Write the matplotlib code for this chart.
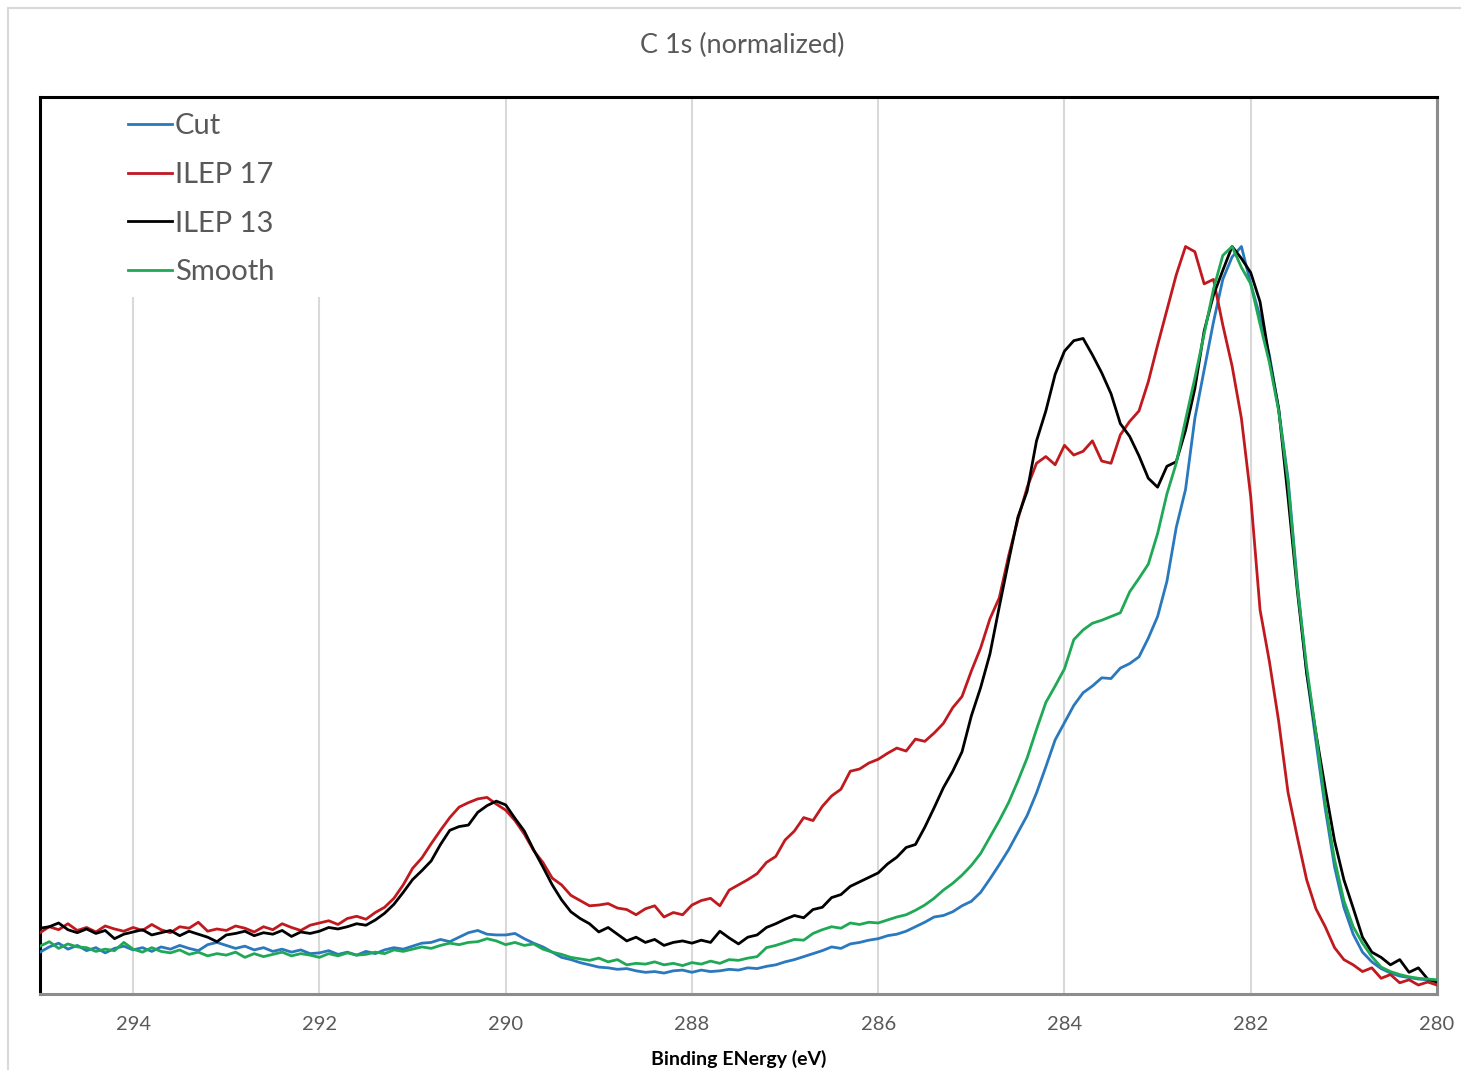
import numpy as np
import matplotlib
matplotlib.use('Agg')
import matplotlib.pyplot as plt
from matplotlib.patches import Rectangle

plt.rcParams['font.family'] = ['Lato', 'DejaVu Sans']

# binding energy grid, 0.1 eV steps from 295 down to 280
energy = np.round(np.arange(295.0, 279.95, -0.1), 1)

# normalized C 1s intensity (%), one row per eV
cut = [
    5.6, 6.3, 6.8, 6.0, 6.5, 5.8, 6.2, 5.5, 6.1, 6.4,
    5.9, 6.2, 5.7, 6.3, 6.0, 6.5, 6.1, 5.8, 6.6, 6.9,
    6.5, 6.1, 6.4, 5.9, 6.2, 5.7, 6.0, 5.6, 5.9, 5.4,
    5.5, 5.8, 5.3, 5.6, 5.2, 5.7, 5.4, 5.9, 6.2, 6.0,
    6.4, 6.8, 6.9, 7.3, 7.0, 7.6, 8.2, 8.5, 8.0, 7.9,
    7.9, 8.1, 7.4, 6.8, 6.3, 5.6, 4.9, 4.6, 4.2, 3.9,
    3.6, 3.5, 3.3, 3.4, 3.1, 2.9, 3.0, 2.8, 3.1, 3.2,
    2.9, 3.2, 3.0, 3.1, 3.3, 3.2, 3.5, 3.4, 3.7, 3.9,
    4.3, 4.6, 5.0, 5.4, 5.8, 6.3, 6.1, 6.7, 6.9, 7.2,
    7.4, 7.8, 8.0, 8.4, 9.0, 9.6, 10.3, 10.5, 11.0, 11.8,
    12.4, 13.6, 15.4, 17.3, 19.3, 21.6, 23.9, 26.9, 30.4, 34.0,
    36.3, 38.6, 40.3, 41.2, 42.3, 42.2, 43.6, 44.2, 45.1, 47.6,
    50.5, 55.2, 62.4, 67.5, 77.0, 83.5, 89.9, 95.6, 98.6, 100.0,
    95.0, 90.6, 85.5, 78.2, 69.0, 55.0, 43.0, 33.8, 24.8, 17.0,
    11.6, 8.0, 5.6, 4.3, 3.4, 2.8, 2.4, 2.2, 2.0, 1.9,
    1.8,
]

ilep17 = [
    8.2, 9.0, 8.6, 9.4, 8.5, 8.9, 8.3, 9.1, 8.7, 8.4,
    8.9, 8.5, 9.3, 8.6, 8.2, 9.0, 8.8, 9.6, 8.4, 8.7,
    8.5, 9.1, 8.8, 8.3, 9.0, 8.6, 9.4, 8.9, 8.5, 9.2,
    9.5, 9.8, 9.3, 10.1, 10.4, 10.0, 10.9, 11.6, 12.8, 14.6,
    16.8, 18.2, 20.1, 21.9, 23.6, 25.0, 25.6, 26.1, 26.3, 25.4,
    24.6, 23.2, 21.4, 19.2, 17.6, 15.5, 14.6, 13.2, 12.5, 11.8,
    11.9, 12.1, 11.5, 11.3, 10.6, 11.4, 11.8, 10.3, 10.9, 10.6,
    11.9, 12.5, 12.8, 11.8, 13.9, 14.6, 15.3, 16.1, 17.6, 18.4,
    20.6, 21.8, 23.6, 23.2, 25.1, 26.5, 27.4, 29.8, 30.1, 30.9,
    31.4, 32.2, 32.9, 32.5, 34.1, 33.8, 34.9, 36.2, 38.3, 39.8,
    43.2, 46.3, 50.2, 53.0, 58.6, 63.5, 67.8, 71.0, 71.9, 70.8,
    73.4, 72.1, 72.6, 74.0, 71.3, 71.0, 74.8, 76.6, 78.0, 81.9,
    86.8, 91.5, 96.2, 100.0, 99.3, 95.0, 95.6, 89.5, 84.0, 77.0,
    66.5, 51.4, 44.5, 36.5, 27.0, 21.0, 15.3, 11.4, 9.0, 6.2,
    4.6, 3.9, 3.0, 3.5, 2.1, 2.6, 1.5, 1.9, 1.2, 1.6,
    1.2,
]

ilep13 = [
    8.8, 9.0, 9.5, 8.6, 8.2, 8.7, 8.1, 8.5, 7.4, 8.0,
    8.3, 8.6, 7.9, 8.2, 8.5, 7.8, 8.4, 8.0, 7.6, 7.0,
    7.9, 8.1, 8.4, 7.8, 8.2, 8.0, 8.5, 7.7, 8.3, 8.1,
    8.4, 8.9, 8.7, 9.0, 9.4, 9.2, 9.9, 10.8, 12.0, 13.6,
    15.3, 16.5, 17.8, 20.0, 21.9, 22.4, 22.6, 24.3, 25.2, 25.8,
    25.3, 23.5, 21.8, 19.3, 17.0, 14.6, 12.6, 11.0, 10.1, 9.4,
    8.3, 8.9, 8.0, 7.1, 7.6, 6.9, 7.3, 6.5, 6.9, 7.1,
    6.8, 7.2, 6.9, 8.4, 7.5, 6.7, 7.6, 7.9, 8.9, 9.4,
    10.0, 10.5, 10.2, 11.3, 11.6, 12.9, 13.3, 14.4, 15.0, 15.6,
    16.2, 17.4, 18.3, 19.6, 20.0, 22.3, 24.9, 27.6, 29.8, 32.4,
    37.2, 41.0, 45.5, 51.8, 57.9, 63.8, 67.3, 74.0, 78.0, 82.9,
    86.0, 87.4, 87.7, 85.5, 83.1, 80.3, 76.3, 74.6, 72.0, 69.0,
    67.8, 70.6, 71.2, 75.4, 81.0, 88.7, 93.5, 96.8, 100.0, 98.4,
    96.5, 92.6, 85.0, 78.3, 66.5, 54.0, 43.0, 34.9, 27.5, 20.5,
    15.3, 11.5, 7.6, 5.6, 4.9, 3.9, 4.6, 2.9, 3.5, 2.0,
    1.6,
]

smooth = [
    6.4, 7.0, 6.1, 6.7, 6.3, 6.2, 5.7, 6.0, 5.8, 6.9,
    6.0, 5.6, 6.2, 5.7, 5.5, 5.9, 5.3, 5.6, 5.1, 5.4,
    5.2, 5.6, 4.9, 5.4, 5.0, 5.3, 5.6, 5.1, 5.4, 5.2,
    4.9, 5.4, 5.1, 5.5, 5.2, 5.3, 5.6, 5.4, 5.9, 5.7,
    6.0, 6.3, 6.1, 6.5, 6.8, 6.6, 6.9, 7.0, 7.4, 7.1,
    6.6, 6.9, 6.5, 6.7, 6.0, 5.6, 5.3, 4.9, 4.7, 4.5,
    4.8, 4.3, 4.6, 3.9, 4.1, 4.0, 4.3, 3.9, 4.1, 3.8,
    4.2, 4.0, 4.4, 4.1, 4.6, 4.5, 4.8, 5.0, 6.2, 6.5,
    6.9, 7.3, 7.2, 8.1, 8.6, 9.0, 8.8, 9.5, 9.3, 9.6,
    9.5, 9.9, 10.3, 10.6, 11.2, 11.9, 12.8, 13.9, 14.8, 15.9,
    17.2, 18.8, 21.0, 23.2, 25.6, 28.5, 31.6, 35.4, 39.0, 41.2,
    43.5, 47.4, 48.7, 49.6, 50.0, 50.5, 51.0, 53.8, 55.6, 57.5,
    61.6, 66.9, 71.0, 76.8, 82.4, 88.3, 94.3, 98.8, 100.0, 97.2,
    95.0, 89.6, 84.5, 78.0, 68.5, 54.5, 43.8, 34.9, 25.5, 18.0,
    12.5, 9.0, 6.8, 5.0, 3.6, 3.0, 2.6, 2.3, 2.1, 2.0,
    1.9,
]

series = [('Cut', cut, '#2a78bd'),
          ('ILEP 17', ilep17, '#c01a1f'),
          ('ILEP 13', ilep13, '#000000'),
          ('Smooth', smooth, '#1fa855')]

ticks = [294, 292, 290, 288, 286, 284, 282, 280]

fig = plt.figure(figsize=(14.61, 10.70), dpi=100)
ax = fig.add_axes([40 / 1461, 76 / 1070, 1397 / 1461, 897 / 1070])

# light frame around the whole chart
fig.patches.append(Rectangle((8 / 1461, -0.1), 1.2, 1.1 - 8 / 1070,
                             transform=fig.transFigure, fill=False,
                             edgecolor='#d9d9d9', lw=1.5))

for name, vals, col in series:
    ax.plot(energy, vals, color=col, lw=2.0, label=name,
            solid_joinstyle='round', zorder=3)

ax.set_xlim(295, 280)
ax.set_ylim(0, 120)
ax.set_xticks(ticks)
ax.set_xticklabels([str(t) for t in ticks])
ax.set_yticks([])
ax.tick_params(axis='x', length=0, pad=16, labelsize=14.5, labelcolor='#595959')
ax.grid(axis='x', color='#d9d9d9', lw=1.5, zorder=0)
ax.set_axisbelow(True)

for side in ['top', 'left', 'right']:
    ax.spines[side].set_color('black')
    ax.spines[side].set_linewidth(2.2)
ax.spines['right'].set_color('#8c8c8c')
ax.spines['bottom'].set_color('#8c8c8c')
ax.spines['bottom'].set_linewidth(2.2)

# white block behind the legend hides the grid lines there
ax.add_patch(Rectangle((0, (994 - 297) / 897), (330 - 40) / 1397, 1,
                       transform=ax.transAxes, facecolor='white',
                       edgecolor='none', zorder=1))

leg = ax.legend(loc='upper left', bbox_to_anchor=(0.063, 0.982),
                frameon=False, fontsize=21, handlelength=1.5,
                handletextpad=0.1, labelspacing=0.78, borderpad=0,
                borderaxespad=0)
for t in leg.get_texts():
    t.set_color('#595959')

ax.set_xlabel('Binding ENergy (eV)', fontsize=14, fontweight='bold',
              labelpad=12)
fig.text(0.508, 1 - 45 / 1070, 'C 1s (normalized)', ha='center',
         va='center', fontsize=19.5, color='#595959')

fig.savefig('out.png', dpi=100)
